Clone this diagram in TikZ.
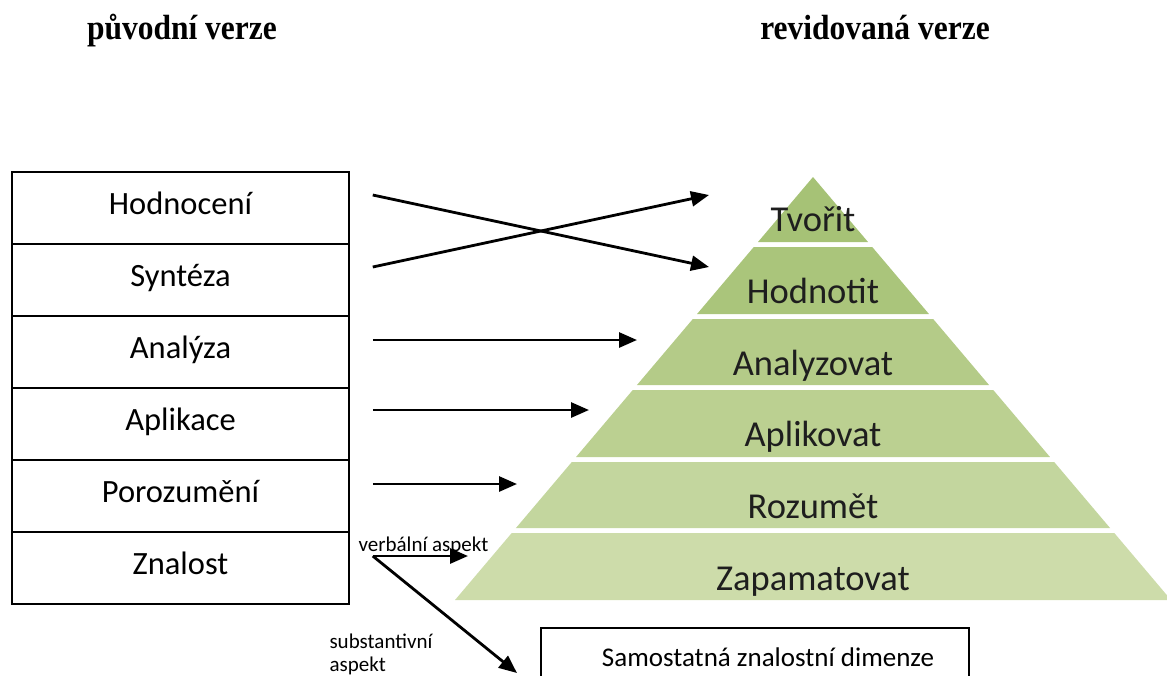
\documentclass[tikz,border=0pt]{standalone}
\usepackage{fontspec}
\setmainfont{Carlito}
\newfontfamily\titlefont[FakeStretch=0.9]{Liberation Serif}
\usetikzlibrary{positioning, arrows.meta, calc}
\definecolor{pyrA}{HTML}{A6C276}
\definecolor{pyrB}{HTML}{AAC57B}
\definecolor{pyrC}{HTML}{B4CB88}
\definecolor{pyrD}{HTML}{BBD091}
\definecolor{pyrE}{HTML}{C3D69E}
\definecolor{pyrF}{HTML}{CDDCAA}
\definecolor{pyrText}{HTML}{1E1E1E}

\tikzset{
  rowbox/.style={draw, line width=1.5pt, minimum width=337pt, minimum height=72pt,
    inner sep=0pt, text height=24pt, text depth=11.5pt, font=\fontsize{32.5}{38}\selectfont},
  levellabel/.style={anchor=base, text=pyrText, font=\fontsize{36.5}{42}\selectfont},
  titlelabel/.style={anchor=base, font=\titlefont\bfseries\fontsize{35}{40}\selectfont},
  aspectlabel/.style={anchor=base west, align=left, font=\fontsize{21}{22.5}\selectfont},
  maparrow/.style={line width=2.8pt, -{Triangle[length=18pt, width=15pt]}}
}

\begin{document}
\begin{tikzpicture}[x=1pt, y=-1pt]
  \useasboundingbox (0,0) rectangle (1167,675);
  \clip (0,0) rectangle (1167,675);
  % Titles
  \node[titlelabel] (puvodni) at (182,39) {původní verze};
  \node[titlelabel] (revidovana) at (875,39) {revidovaná verze};
  % Original taxonomy (stacked boxes)
  \foreach \i/\name/\txt in {0/hodnoceni/Hodnocení, 1/synteza/Syntéza, 2/analyza/Analýza,
      3/aplikace/Aplikace, 4/porozumeni/Porozumění, 5/znalost/Znalost} {
    \node[rowbox] (\name) at (180.5,{208+72*\i}) {\txt};
  }
  % Revised taxonomy (pyramid bands), apex at (813,177)
  \foreach \top/\bot/\col/\base/\name/\txt in {177/242/pyrA/231/tvorit/Tvořit,
      247/314/pyrB/303/hodnotit/Hodnotit, 319/385/pyrC/375/analyzovat/Analyzovat,
      390/457/pyrD/446/aplikovat/Aplikovat, 462/528/pyrE/518/rozumet/Rozumět,
      533/600/pyrF/590/zapamatovat/Zapamatovat} {
    \pgfmathsetmacro{\hwt}{(\top-177)*0.8463}
    \pgfmathsetmacro{\hwb}{(\bot-177)*0.8463}
    \fill[\col] ({813-\hwt},\top) -- ({813+\hwt},\top) -- ({813+\hwb},\bot) -- ({813-\hwb},\bot) -- cycle;
    \node[levellabel] (\name) at (813,\base) {\txt};
  }
  % Separate knowledge dimension
  \node[draw, line width=1.5pt, minimum width=428pt, minimum height=58pt, inner sep=0pt,
    font=\fontsize{27}{30}\selectfont] (dimenze) at (755,657) {\hspace*{26pt}Samostatná znalostní dimenze};
  % Arrow ends
  \coordinate (toTvorit) at (709,195);
  \coordinate (toHodnotit) at (709,267);
  \coordinate (toAnalyzovat) at (637,340);
  \coordinate (toAplikovat) at (589,410);
  \coordinate (toRozumet) at (517,484);
  \coordinate (toVerbal) at (468,556);
  \coordinate (toDimenze) at (517,673);
  % Mapping arrows
  \draw[maparrow] ([shift={(23,-13)}]hodnoceni.east) -- (toHodnotit);
  \draw[maparrow] ([shift={(23,-13)}]synteza.east) -- (toTvorit);
  \draw[maparrow] ([shift={(23,-12)}]analyza.east) -- (toAnalyzovat);
  \draw[maparrow] ([shift={(23,-14)}]aplikace.east) -- (toAplikovat);
  \draw[maparrow] ([shift={(23,-12)}]porozumeni.east) -- (toRozumet);
  \draw[maparrow] ([shift={(23,-12)}]znalost.east) -- (toVerbal);
  \draw[maparrow] ([shift={(23,-12)}]znalost.east) -- (toDimenze);
  % Aspect labels
  \node[aspectlabel] (verbalni) at (355,551) {verbální aspekt};
  \node[aspectlabel] (substantivni) at (326,671) {substantivní\\aspekt};
\end{tikzpicture}
\end{document}
